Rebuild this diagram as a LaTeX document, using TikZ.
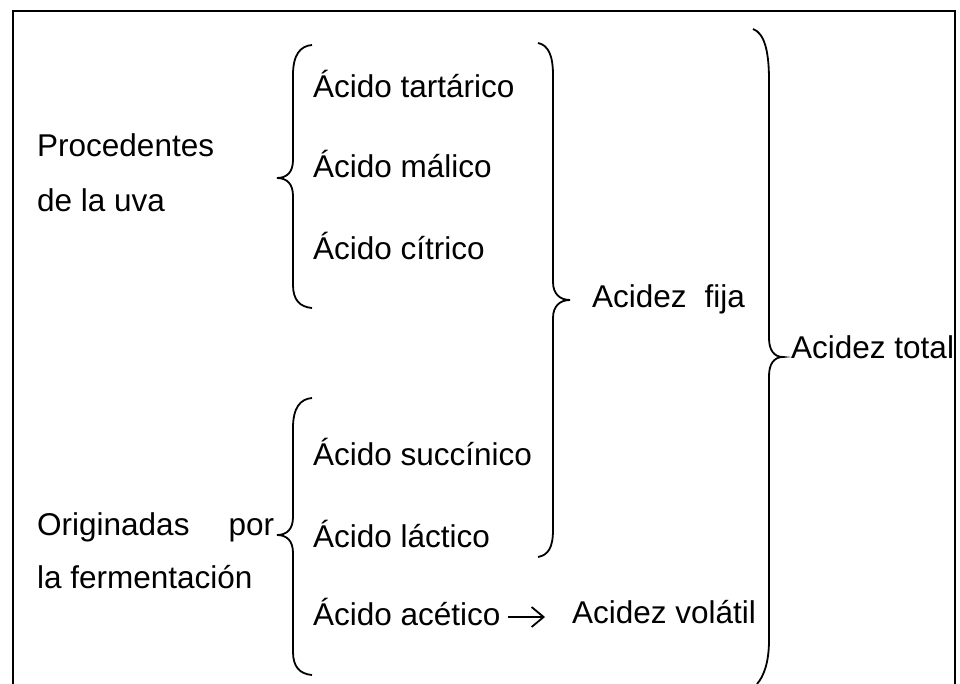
\documentclass[tikz,border=0pt]{standalone}
\usepackage{fontspec}
\setmainfont{Liberation Sans}
\usetikzlibrary{arrows.meta}
\begin{document}
\begin{tikzpicture}[x=1pt,y=-1pt,
  txt/.style={anchor=base west,inner sep=0pt,font=\fontsize{31.5}{37}\selectfont},
  brace/.style={line width=1.8pt},
  frame/.style={line width=1.5pt},
  conn/.style={line width=1.8pt,-{Straight Barb[length=12pt,width=20pt,line width=1.8pt]}}]
\useasboundingbox (0,0) rectangle (960,684);
% frame (open at the bottom)
\draw[frame] (13,684) -- (13,11) -- (955,11) -- (955,684);
% texts
\node[txt] (p1) at (37,157) {Procedentes};
\node[txt] (p2) at (37,212) {de la uva};
\node[txt] (t) at (313,98) {Ácido tartárico};
\node[txt] (m) at (313,178) {Ácido málico};
\node[txt] (c) at (313,260) {Ácido cítrico};
\node[txt] (fija) at (592,308) {Acidez\hspace{18pt}fija};
\node[txt] (total) at (791,358) {Acidez total};
\node[txt] (s) at (313,465) {Ácido succínico};
\node[txt] (l) at (313,547) {Ácido láctico};
\node[txt] (o1) at (37,535) {Originadas\hspace{39pt}por};
\node[txt] (o2) at (37,588) {la fermentación};
\node[txt] (a) at (313,625) {Ácido acético};
\node[txt] (v) at (572,623) {Acidez volátil};
% arrow
\coordinate (arrS) at ([xshift=7pt,yshift=8pt]a.base east);
\coordinate (arrE) at ([xshift=-27pt,yshift=6pt]v.base west);
\draw[conn] (arrS) -- (arrE);
% brace 1 (left, upper)
\draw[brace] (312,45) .. controls (300,46) and (293,55) .. (293,75) -- (293,160)
  .. controls (293,172) and (287,178) .. (277,178)
  .. controls (287,178) and (293,184) .. (293,196) -- (293,285)
  .. controls (293,300) and (300,307) .. (312,308);
% brace 3 (left, lower)
\draw[brace] (312,398) .. controls (300,399) and (293,408) .. (293,428) -- (293,517)
  .. controls (293,529) and (287,535) .. (277,535)
  .. controls (287,535) and (293,541) .. (293,553) -- (293,652)
  .. controls (293,667) and (300,674) .. (312,675);
% brace 2 (right, Acidez fija)
\draw[brace] (538,43) .. controls (548,45) and (553,55) .. (553,75) -- (553,282)
  .. controls (553,294) and (560,300) .. (570,300)
  .. controls (560,300) and (553,306) .. (553,318) -- (553,530)
  .. controls (553,548) and (548,555) .. (538,557);
% brace 4 (right, Acidez total)
\draw[brace] (753,29) .. controls (764,33) and (769,50) .. (769,80) -- (769,338)
  .. controls (769,350) and (774,357) .. (783,357)
  .. controls (774,357) and (769,364) .. (769,376) -- (769,640)
  .. controls (769,662) and (764,676) .. (757,684);
\end{tikzpicture}
\end{document}
